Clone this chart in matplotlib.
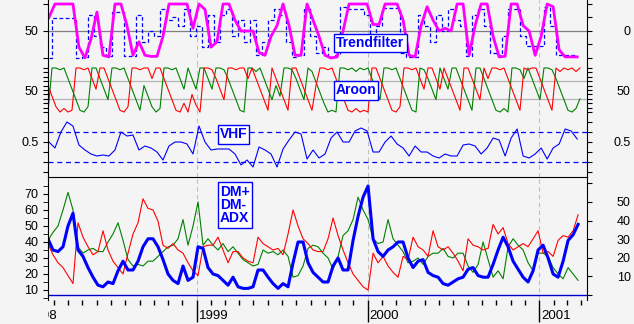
import matplotlib
matplotlib.use('Agg')
import matplotlib.pyplot as plt
import matplotlib.dates as mdates
from matplotlib.patches import Rectangle
from matplotlib.ticker import NullFormatter
import pandas as pd

# trend filter / vhf: one reading every ~6 px
top_dates = pd.date_range('1998-02-19', '2001-03-23', periods=89)
# aroon: one reading every ~4 px
aroon_dates = pd.date_range('1998-02-17', '2001-03-29', periods=134)
# dm / adx: one reading every ~5 px
dm_dates = pd.date_range('1998-02-17', '2001-03-25', periods=107)

trend = [75, 100, 100, 100, 100, 20, 0, 35, 85, 5,
         2, 100, 100, 60, 5, 30, 5, 3, 3, 40,
         100, 100, 100, 100, 55, 100, 90, 20, 30, 100,
         100, 70, 50, 50, 50, 10, 5, 40, 60, 100,
         60, 5, 5, 100, 70, 40, 5, 0, 2, 50,
         100, 100, 100, 100, 62, 62, 100, 100, 100, 70,
         5, 2, 60, 95, 70, 50, 55, 50, 100, 100,
         5, 60, 100, 100, 40, 2, 3, 100, 100, 60,
         50, 5, 40, 100, 95, 15, 2, 2, 2]
trend_signal = [0, 74, 74, 74, 74, 0, 2, 80, 40, 20,
                3, 85, 85, 3, 3, 80, 30, 50, 40, 90,
                70, 75, 60, 90, 40, 60, 20, 80, 30, 80,
                90, 40, 70, 30, 70, 5, 30, 70, 90, 80,
                30, 2, 5, 95, 40, 10, 20, 2, 5, 95,
                90, 90, 90, 80, 20, 60, 93, 93, 93, 10,
                2, 2, 80, 60, 30, 80, 50, 90, 70, 60,
                3, 80, 90, 60, 10, 5, 40, 90, 90, 40,
                22, 22, 22, 95, 60, 6, 6, 6, 6]
aroon_up = [0, 100, 100, 96, 100, 76, 52, 28, 4, 0,
            12, 100, 100, 76, 52, 28, 100, 100, 96, 100,
            76, 52, 28, 4, 60, 36, 12, 0, 8, 100,
            100, 96, 100, 76, 52, 100, 76, 52, 100, 100,
            76, 52, 100, 100, 96, 76, 52, 28, 4, 0,
            100, 100, 92, 100, 76, 52, 28, 60, 36, 100,
            100, 96, 76, 52, 28, 100, 92, 68, 44, 20,
            0, 4, 0, 100, 100, 96, 100, 92, 100, 96,
            100, 76, 52, 28, 100, 100, 96, 100, 76, 52,
            28, 4, 0, 100, 96, 76, 52, 28, 100, 76,
            52, 100, 100, 76, 52, 28, 4, 100, 100, 76,
            52, 28, 4, 0, 8, 0, 100, 100, 96, 76,
            100, 76, 52, 28, 100, 100, 96, 76, 52, 28,
            4, 0, 8, 30]
aroon_down = [60, 36, 12, 0, 8, 0, 4, 100, 100, 96,
              100, 76, 52, 100, 100, 76, 52, 28, 4, 0,
              12, 100, 100, 96, 100, 100, 76, 100, 100, 76,
              52, 28, 4, 0, 20, 0, 40, 16, 0, 100,
              100, 96, 76, 52, 28, 100, 100, 96, 100, 100,
              76, 100, 76, 52, 28, 4, 100, 76, 52, 28,
              4, 100, 100, 76, 52, 28, 4, 60, 100, 100,
              96, 100, 76, 52, 28, 4, 0, 8, 0, 4,
              0, 100, 100, 76, 52, 28, 4, 0, 12, 100,
              100, 96, 100, 76, 52, 100, 100, 76, 52, 100,
              76, 52, 28, 4, 100, 100, 76, 52, 28, 100,
              76, 100, 100, 96, 100, 76, 52, 28, 4, 100,
              96, 100, 100, 76, 52, 28, 4, 100, 92, 100,
              96, 100, 92, 100]
vhf = [0.50, 0.47, 0.55, 0.60, 0.58, 0.485, 0.46, 0.44, 0.43, 0.435,
       0.43, 0.46, 0.55, 0.53, 0.535, 0.46, 0.48, 0.47, 0.45, 0.41,
       0.48, 0.50, 0.50, 0.49, 0.44, 0.58, 0.50, 0.46, 0.465, 0.465,
       0.465, 0.44, 0.385, 0.41, 0.375, 0.475, 0.46, 0.44, 0.375, 0.465,
       0.51, 0.55, 0.54, 0.415, 0.46, 0.42, 0.44, 0.52, 0.55, 0.50,
       0.50, 0.555, 0.57, 0.555, 0.45, 0.45, 0.50, 0.53, 0.49, 0.47,
       0.43, 0.48, 0.45, 0.45, 0.43, 0.42, 0.44, 0.43, 0.43, 0.485,
       0.49, 0.48, 0.44, 0.47, 0.52, 0.51, 0.43, 0.52, 0.565, 0.43,
       0.42, 0.44, 0.47, 0.415, 0.47, 0.49, 0.565, 0.555, 0.515]
vhf_bands = [0.40, 0.55]
dm_plus = [41, 46, 50, 60, 71, 60, 37, 33, 35, 36,
           34, 34, 40, 45, 52, 41, 29, 25, 26, 25,
           28, 28, 31, 34, 37, 38, 42, 54, 38, 50,
           65, 38, 42, 38, 35, 39, 34, 37, 33, 29,
           27, 25, 26, 35, 33, 34, 32, 35, 31, 18,
           19, 25, 36, 38, 37, 33, 30, 23, 31, 44,
           47, 54, 68, 60, 54, 42, 39, 40, 54, 42,
           38, 34, 27, 28, 30, 26, 31, 33, 33, 36,
           31, 30, 33, 33, 25, 21, 26, 40, 29, 18,
           22, 17, 37, 42, 38, 35, 27, 22, 33, 33,
           31, 24, 20, 17, 24, 20, 16]
dm_minus = [39, 32, 27, 24, 19, 14, 52, 43, 37, 32,
            34, 47, 35, 28, 24, 20, 33, 45, 52, 67,
            61, 60, 53, 38, 36, 39, 35, 33, 27, 22,
            19, 37, 38, 38, 43, 35, 27, 34, 34, 30,
            28, 27, 43, 39, 37, 35, 36, 32, 45, 60,
            50, 42, 39, 35, 34, 34, 42, 55, 44, 35,
            27, 20, 16, 12, 10, 33, 27, 31, 25, 21,
            18, 31, 29, 43, 37, 35, 31, 47, 37, 35,
            37, 33, 28, 22, 42, 38, 37, 35, 36, 51,
            45, 49, 39, 35, 37, 39, 37, 42, 47, 33,
            34, 31, 41, 44, 43, 47, 57]
adx = [42, 35, 34, 37, 50, 58, 35, 31, 24, 18,
       13, 12, 15, 14, 22, 28, 22.5, 22.5, 28, 37,
       42, 42, 37, 29, 20, 16, 14, 25, 16, 18,
       37, 36, 24, 20, 19, 16, 13, 18, 12, 11,
       11, 12, 22.5, 22.5, 18, 14, 11, 14, 12, 27,
       40, 40, 27, 21, 18, 15, 15, 25, 30, 22.5,
       22.5, 41, 56, 68, 75, 42, 34, 31, 35, 37,
       40, 40, 30, 24, 28, 29, 21, 19, 18, 14,
       13, 15, 17, 18, 23, 24, 19, 18, 18, 26,
       35, 43, 37, 28, 23, 18, 15, 22, 35, 38,
       30, 20, 18, 28, 41, 44.5, 51]
year_labels = ['1998', '1999', '2000', '2001']

BG = '#f4f4f4'
BLUE = '#0000ff'
plt.rcParams['font.family'] = ['Liberation Sans', 'DejaVu Sans']
plt.rcParams['font.size'] = 9

W, H = 634, 324
fig = plt.figure(figsize=(W / 100, H / 100), dpi=100, facecolor=BG)
x0, x1 = pd.Timestamp('1998-02-17'), pd.Timestamp('2001-04-13')
year_starts = [pd.Timestamp(y + '-01-01') for y in year_labels]


def panel(y0, y1, ylim):
    ax = fig.add_axes([48 / W, 1 - y1 / H, 539 / W, (y1 - y0) / H], facecolor=BG)
    ax.set_xlim(x0, x1)
    ax.set_ylim(*ylim)
    ax.spines['top'].set_visible(False)
    ax.spines['bottom'].set_visible(False)
    ax.spines['right'].set_visible(False)
    ax.tick_params(axis='x', bottom=False, labelbottom=False)
    ax.tick_params(axis='y', which='both', length=3.5, color='black')
    for d in year_starts[1:]:
        ax.axvline(d, color='#c0c0c0', lw=0.8, dashes=(4, 3), zorder=0)
    return ax


def right_axis(ax, fwd, inv, ticks, labels):
    sec = ax.secondary_yaxis('right', functions=(fwd, inv))
    sec.set_yticks(ticks, labels)
    sec.tick_params(length=3.5, pad=28)
    plt.setp(sec.get_yticklabels(), ha='right')
    return sec


def only(ticks, keep):
    return [str(keep) if t == keep else '' for t in ticks]


def tag(x, y, s, **kw):
    fig.text(x / W, 1 - y / H, s, color=BLUE, fontsize=10, fontweight='bold',
             va='center', bbox=dict(boxstyle='square,pad=0.15', fc='white', ec=BLUE, lw=1),
             **kw)


# trend filter
ax1 = panel(0, 65, (-13, 107.4))
ax1.axhline(50, color='#808080', lw=0.9, zorder=0)
ax1.plot(top_dates, trend_signal, color=BLUE, lw=0.9, dashes=(3, 2), drawstyle='steps-mid')
ax1.plot(top_dates, trend, color='#ff00ff', lw=2.0)
ax1.set_yticks([0, 50, 100], ['', '50', ''])
right_axis(ax1, lambda v: (v - 50) * 2, lambda r: r / 2 + 50,
           [-100, -50, 0, 50, 100], ['', '', '0', '', ''])
tag(370.5, 43, 'Trendfilter', ha='center')

# aroon
ax2 = panel(65, 114, (-4.5, 106.8))
for g in [30, 70]:
    ax2.axhline(g, color='#b4b4b4', lw=0.9, zorder=0)
ax2.plot(aroon_dates, aroon_up, color='#008000', lw=0.8)
ax2.plot(aroon_dates, aroon_down, color='#ff0000', lw=0.8)
t2 = list(range(0, 101, 10))
ax2.set_yticks(t2, only(t2, 50))
right_axis(ax2, lambda v: v, lambda v: v, t2, only(t2, 50))
tag(356, 90.5, 'Aroon', ha='center')

# vhf
ax3 = panel(114, 177, (0.325, 0.64))
for b in vhf_bands:
    ax3.axhline(b, color=BLUE, lw=0.9, dashes=(4, 3), zorder=1)
ax3.plot(top_dates, vhf, color=BLUE, lw=0.8)
t3 = [0.35, 0.40, 0.45, 0.5, 0.55, 0.60]
l3 = ['0.5' if t == 0.5 else '' for t in t3]
ax3.set_yticks(t3, l3)
right_axis(ax3, lambda v: v, lambda v: v, t3, l3)
tag(233.5, 134.5, 'VHF', ha='center')

# dm / adx
ax4 = panel(177, 300, (3.75, 80.6))
ax4.spines['top'].set_visible(True)
ax4.plot(dm_dates, dm_plus, color='#008000', lw=0.8)
ax4.plot(dm_dates, dm_minus, color='#ff0000', lw=0.8)
ax4.plot(dm_dates, adx, color=BLUE, lw=2.2)
ax4.set_yticks(range(10, 71, 10))
ax4.set_yticks(range(5, 80, 10), minor=True)
ax4.tick_params(axis='y', which='minor', length=3.5)
fwd = lambda v: (1.6 * v - 11) / 1.86
inv = lambda r: (1.86 * r + 11) / 1.6
right_axis(ax4, fwd, inv, list(range(0, 61, 10)), ['', '10', '20', '30', '40', '50', ''])
ax4.axhline(inv(0), color='#0000cc', lw=1.0)
tag(220, 205, 'DM+\nDM-\nADX', ha='left', linespacing=0.95)

ax4.tick_params(axis='x', which='both', bottom=True, direction='out', color='black')
ax4.xaxis.set_major_locator(mdates.YearLocator())
ax4.xaxis.set_minor_locator(mdates.MonthLocator())
ax4.xaxis.set_major_formatter(NullFormatter())
ax4.tick_params(axis='x', which='major', length=15.8, width=1)
ax4.tick_params(axis='x', which='minor', length=3.6, width=1)

clip = Rectangle((48 / W, 0), 1, 1, transform=fig.transFigure)
for lab, d in zip(year_labels, year_starts):
    t = ax4.text(d + pd.Timedelta(days=4), -0.13, lab, transform=ax4.get_xaxis_transform(),
                 ha='left', va='center', fontsize=9.5)
    t.set_clip_path(clip)
    t.set_clip_on(True)

fig.savefig('out.png', dpi=100, facecolor=BG)
